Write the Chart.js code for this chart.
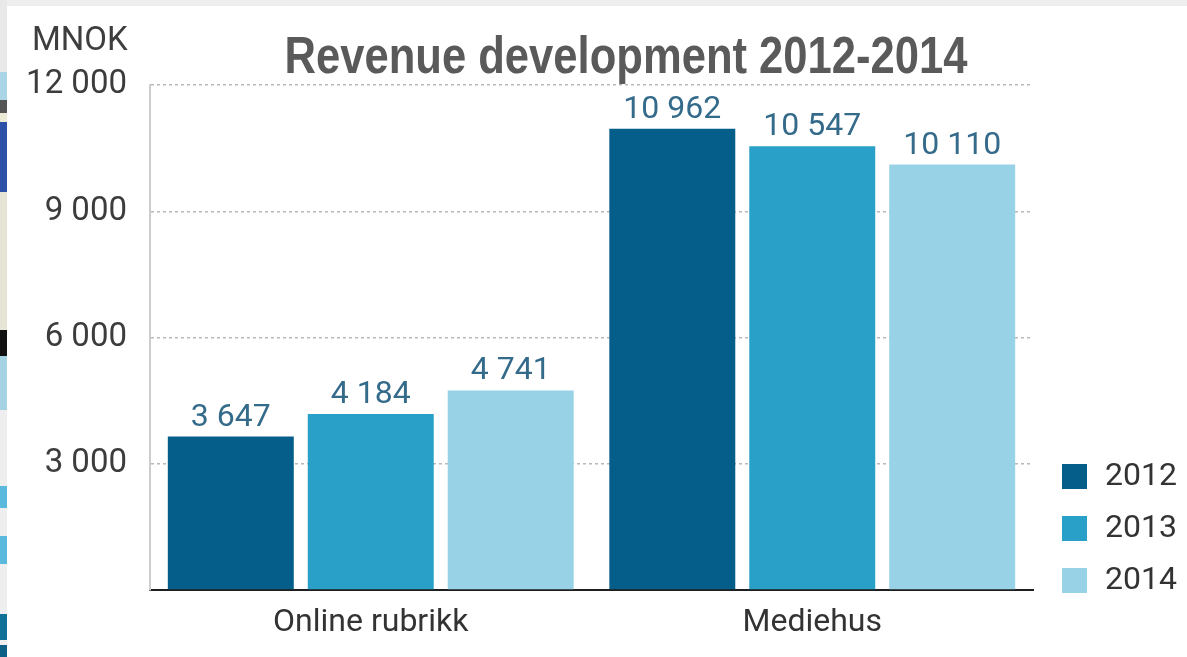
<!DOCTYPE html>
<html>
<head>
<meta charset="utf-8">
<title>Revenue development 2012-2014</title>
<script src="https://cdn.jsdelivr.net/npm/chart.js@4.4.1/dist/chart.umd.min.js"></script>
<style>
    html, body {
        margin: 0;
        padding: 0;
        background: #ffffff;
        overflow: hidden;
    }
    #wrap {
        position: relative;
        width: 1187px;
        height: 657px;
    }
    #topStrip {
        position: absolute;
        left: 0;
        top: 0;
        width: 1187px;
        height: 6px;
        background: #eeeeee;
    }
    #leftStrip {
        position: absolute;
        left: 0;
        top: 0;
        width: 7px;
        height: 657px;
        background: linear-gradient(to bottom,
            #e9e9e9 0px, #e9e9e9 72px,
            #a9d5e7 72px, #a9d5e7 100px,
            #555555 100px, #555555 113px,
            #ece9d6 113px, #ece9d6 122px,
            #2c51a6 122px, #2c51a6 192px,
            #e6e4d4 192px, #e6e4d4 330px,
            #111111 330px, #111111 356px,
            #a6d3e4 356px, #a6d3e4 410px,
            #eeeeee 410px, #eeeeee 486px,
            #5bb9dd 486px, #5bb9dd 508px,
            #eeeeee 508px, #eeeeee 536px,
            #5bb9dd 536px, #5bb9dd 564px,
            #eeeeee 564px, #eeeeee 614px,
            #10709a 614px, #10709a 640px,
            #eeeeee 640px, #eeeeee 645px,
            #0d5f86 645px, #0d5f86 657px);
    }
</style>
</head>
<body>
<div id="wrap">
    <canvas id="graficoReceita" width="1187" height="657"></canvas>
    <div id="topStrip"></div>
    <div id="leftStrip"></div>
</div>
<script>
const categorias = ['Online rubrikk', 'Mediehus'];
const anos = ['2012', '2013', '2014'];
const receita2012 = [3647, 10962];
const receita2013 = [4184, 10547];
const receita2014 = [4741, 10110];
const ticksEixoY = [0, 3000, 6000, 9000, 12000];
const unidade = 'MNOK';
const titulo = 'Revenue development 2012-2014';

const cores = ['#055e89', '#29a0c8', '#98d2e7'];

function formatarNumero(valor) {
    return String(valor).replace(/\B(?=(\d{3})+(?!\d))/g, ' ');
}

// title (condensed bold) and unit label above the plot
const pluginTitulo = {
    id: 'titulo',
    afterDraw(chart) {
        const ctx = chart.ctx;
        ctx.save();
        ctx.textBaseline = 'alphabetic';

        ctx.fillStyle = '#5a5a5a';
        ctx.font = "bold 52px 'Liberation Sans Narrow', 'Arial Narrow', 'Liberation Sans', sans-serif";
        ctx.textAlign = 'center';
        const largura = ctx.measureText(titulo).width;
        ctx.translate(626, 73);
        ctx.scale(683 / largura, 1);
        ctx.fillText(titulo, 0, 0);
        ctx.restore();

        ctx.save();
        ctx.fillStyle = '#3e3e3e';
        ctx.font = '33px Roboto';
        ctx.textAlign = 'left';
        ctx.textBaseline = 'alphabetic';
        ctx.fillText(unidade, 32, 50);
        ctx.restore();
    }
};

// value above each bar
const pluginValores = {
    id: 'valores',
    afterDatasetsDraw(chart) {
        const ctx = chart.ctx;
        ctx.save();
        ctx.fillStyle = '#346a8a';
        ctx.font = '32px Roboto';
        ctx.textAlign = 'center';
        ctx.textBaseline = 'alphabetic';
        chart.data.datasets.forEach(function (dataset, i) {
            chart.getDatasetMeta(i).data.forEach(function (barra, j) {
                ctx.fillText(formatarNumero(dataset.data[j]), barra.x, barra.y - 11);
            });
        });
        ctx.restore();
    }
};

// legend in the lower right corner
const pluginLegenda = {
    id: 'legenda',
    afterDraw(chart) {
        const ctx = chart.ctx;
        const area = chart.chartArea;
        const n = chart.data.datasets.length;
        ctx.save();
        ctx.font = '32px Roboto';
        ctx.textAlign = 'left';
        ctx.textBaseline = 'middle';
        chart.data.datasets.forEach(function (dataset, i) {
            const y = area.bottom - 10 - (n - 1 - i) * 52;
            ctx.fillStyle = dataset.backgroundColor;
            ctx.fillRect(area.right + 29, y - 12, 25, 25);
            ctx.fillStyle = '#333333';
            ctx.fillText(dataset.label, area.right + 72, y + 1);
        });
        ctx.restore();
    }
};

plotarGrafico();

function plotarGrafico() {
    Chart.defaults.font.family = 'Roboto';
    Chart.defaults.font.size = 33;
    Chart.defaults.color = '#3c3c3c';

    const series = [receita2012, receita2013, receita2014];

    let chartData = {
        labels: categorias,
        datasets: series.map(function (valores, i) {
            return {
                label: anos[i],
                data: valores,
                backgroundColor: cores[i],
                borderWidth: 0,
                categoryPercentage: 0.951,
                barPercentage: 0.9
            };
        })
    };

    const config = {
        type: 'bar',
        data: chartData,
        options: {
            responsive: false,
            animation: false,
            layout: {
                padding: { top: 85, right: 154, bottom: 0, left: 0 }
            },
            scales: {
                x: {
                    grid: { display: false, drawTicks: false },
                    border: { display: true, color: '#1e1e1e', width: 2 },
                    ticks: {
                        color: '#333333',
                        padding: 14,
                        font: { size: 32 }
                    },
                    afterFit(scale) {
                        scale.height = 67;
                    }
                },
                y: {
                    min: 0,
                    max: 12000,
                    afterBuildTicks(scale) {
                        scale.ticks = ticksEixoY.map(function (v) { return { value: v }; });
                    },
                    afterFit(scale) {
                        scale.width = 150;
                    },
                    grid: {
                        drawTicks: false,
                        lineWidth: 1.5,
                        color: function (context) {
                            return context.tick && context.tick.value === 0 ? 'rgba(0,0,0,0)' : '#b8b8b8';
                        }
                    },
                    border: { display: true, color: '#cccccc', width: 2, dash: [3, 3] },
                    ticks: {
                        padding: 23,
                        color: '#3c3c3c',
                        callback: function (valor) {
                            return valor === 0 ? '' : formatarNumero(valor);
                        }
                    }
                }
            },
            plugins: {
                legend: { display: false },
                title: { display: false },
                tooltip: { enabled: false }
            }
        },
        plugins: [pluginTitulo, pluginValores, pluginLegenda]
    };

    let myChart = new Chart(
        document.getElementById('graficoReceita'),
        config
    );
}
</script>
</body>
</html>
